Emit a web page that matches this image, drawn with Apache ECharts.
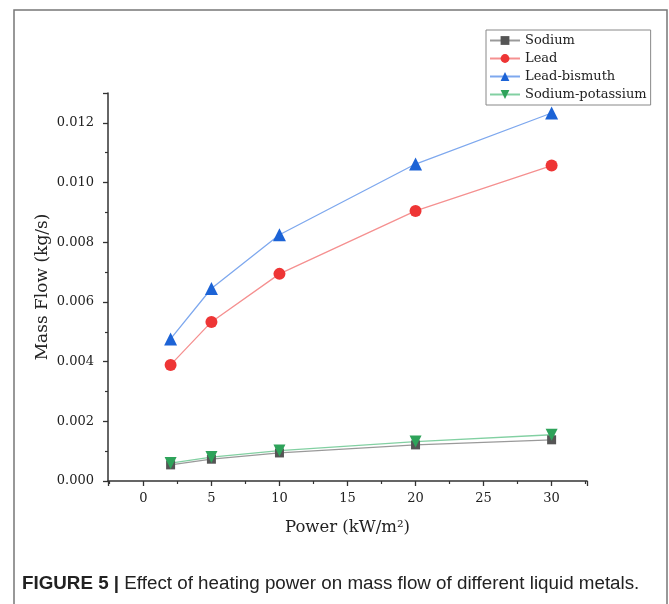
<!DOCTYPE html>
<html>
<head>
<meta charset="utf-8">
<script src="https://cdn.jsdelivr.net/npm/echarts@6/dist/echarts.min.js"></script>
<style>
html,body{margin:0;padding:0;background:#fff;}
#c{width:669px;height:604px;}
</style>
</head>
<body>
<div id="c"></div>
<script>
const power = [2, 5, 10, 20, 30];
const sodium = [0.00054, 0.00073, 0.00094, 0.00121, 0.00138];
const lead = [0.00389, 0.00533, 0.00694, 0.00905, 0.01057];
const leadBismuth = [0.00476, 0.00645, 0.00825, 0.01062, 0.01233];
const sodiumPotassium = [0.00060, 0.00080, 0.00102, 0.00132, 0.00155];
const seriesNames = ['Sodium', 'Lead', 'Lead-bismuth', 'Sodium-potassium'];
const caption = ['FIGURE 5 |', ' Effect of heating power on mass flow of different liquid metals.'];

const pairs = a => power.map((p, i) => [p, a[i]]);
const font = 'DejaVu Serif';

function mk(name, data, symbol, size, mcol, lcol) {
  return {
    name, type: 'line', data: pairs(data), symbol, symbolSize: size,
    itemStyle: { color: mcol },
    lineStyle: { color: lcol, width: 1.3 },
    emphasis: { disabled: true }
  };
}

const chart = echarts.init(document.getElementById('c'), null, { renderer: 'canvas' });
chart.setOption({
  animation: false,
  backgroundColor: '#fff',
  grid: { left: 108, top: 93, right: 82, bottom: 123, containLabel: false },
  legend: {
    orient: 'vertical', left: 486, top: 30,
    padding: [4, 4, 4, 3], itemGap: 5, itemWidth: 30, itemHeight: 11,
    borderColor: '#888', borderWidth: 1, backgroundColor: '#fff',
    textStyle: { fontFamily: font, fontSize: 13, color: '#222' },
    data: seriesNames
  },
  xAxis: {
    type: 'value', min: -2.6, max: 32.6, splitNumber: 7,
    name: 'Power (kW/m²)', nameLocation: 'middle', nameGap: 38,
    nameTextStyle: { fontFamily: font, fontSize: 16.5, color: '#222' },
    axisLine: { show: true, onZero: false, lineStyle: { color: '#333', width: 1.5 } },
    axisTick: { show: true, inside: false, length: 5, lineStyle: { color: '#333', width: 1.3 } },
    minorTick: { show: true, splitNumber: 2, length: 3, lineStyle: { color: '#333', width: 1.2 } },
    splitLine: { show: false },
    axisLabel: { fontFamily: font, fontSize: 13, color: '#222', margin: 11, showMinLabel: false, showMaxLabel: false }
  },
  yAxis: {
    type: 'value', min: 0, max: 0.013, interval: 0.002,
    name: 'Mass Flow (kg/s)', nameLocation: 'middle', nameGap: 57, nameMoveOverlap: false,
    nameTextStyle: { fontFamily: font, fontSize: 17, color: '#222' },
    axisLine: { show: true, onZero: false, lineStyle: { color: '#333', width: 1.5 } },
    axisTick: { show: true, inside: false, length: 5, lineStyle: { color: '#333', width: 1.3 } },
    minorTick: { show: true, splitNumber: 2, length: 3, lineStyle: { color: '#333', width: 1.2 } },
    splitLine: { show: false },
    axisLabel: { fontFamily: font, fontSize: 13, color: '#222', margin: 14, showMaxLabel: false,
      formatter: v => v.toFixed(3) }
  },
  series: [
    mk(seriesNames[0], sodium, 'rect', 9, '#555555', '#9a9a9a'),
    mk(seriesNames[1], lead, 'circle', 12, '#ee3535', '#f59090'),
    mk(seriesNames[2], leadBismuth, 'triangle', 13, '#1c63d6', '#7ea8ee'),
    mk(seriesNames[3], sodiumPotassium, 'path://M0,0L10,0L5,9Z', 12, '#2ea35a', '#82d0a2')
  ],
  graphic: [
    { type: 'rect', shape: { x: 14, y: 10, width: 653, height: 620 },
      style: { fill: 'none', stroke: '#777', lineWidth: 1.5 }, silent: true },
    { type: 'text', left: 22, top: 574,
      style: { text: '{b|' + caption[0] + '}{r|' + caption[1] + '}',
        rich: {
          b: { fontFamily: 'Liberation Sans', fontWeight: 'bold', fontSize: 18.8, fill: '#222' },
          r: { fontFamily: 'Liberation Sans', fontSize: 18.8, fill: '#222' }
        } } }
  ]
});
</script>
</body>
</html>
